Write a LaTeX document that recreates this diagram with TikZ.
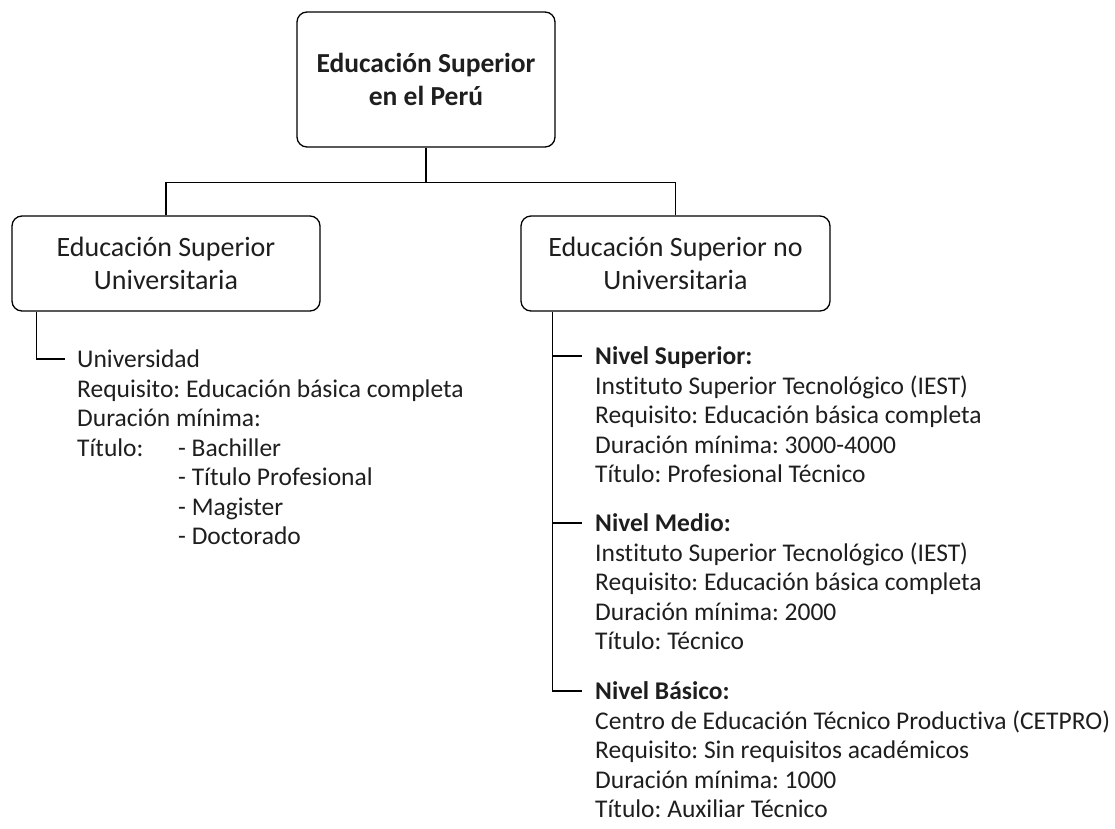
\documentclass[tikz,border=0pt]{standalone}
\usepackage{fontspec}
\setmainfont{Carlito}[Ligatures=NoCommon]
\usetikzlibrary{positioning}
\frenchspacing
\definecolor{tinta}{HTML}{1E1E1E}
\tikzset{
  caja/.style={draw, rounded corners=10pt, line width=1.3pt, align=center, inner sep=0pt},
  titulo/.style={font=\fontsize{25.5}{29.5}\selectfont, text height=16.5pt, text depth=0pt, inner sep=0pt, anchor=west},
  titulob/.style={titulo, font=\bfseries\fontsize{25.5}{29.5}\selectfont},
  detalle/.style={font=\fontsize{25.5}{29.5}\selectfont, align=left, inner sep=0pt, anchor=north west},
  rama/.style={line width=1.3pt},
}
\begin{document}
\begin{tikzpicture}[x=1pt,y=-1pt,every node/.style={text=tinta}]
  \useasboundingbox (0,0) rectangle (1115,828);
  % cajas
  \node[caja, minimum width=258pt, minimum height=135pt, font=\bfseries\fontsize{27.5}{33}\selectfont] (esp) at (426,79.5) {Educación Superior\\en el Perú};
  \node[caja, minimum width=308pt, minimum height=95pt, font=\fontsize{28}{33}\selectfont] (esu) at (166,263.5) {Educación Superior\\Universitaria};
  \node[caja, minimum width=309pt, minimum height=95pt, font=\fontsize{28}{33}\selectfont] (esnu) at (675.5,263.5) {Educación Superior no\\Universitaria};
  \draw[rama] (esp.south) -- ++(0,35) coordinate (cruce);
  \draw[rama] (esu.north) |- (cruce) -| (esnu.north);
  % universitaria
  \node[titulo] (uni) at (77,359) {Universidad};
  \node[below=8.85pt of uni.south west, detalle] (unidet) {\strut Requisito: Educación básica completa\\Duración mínima:\\\makebox[101pt][l]{Título:}- Bachiller\\\hspace*{101pt}- Título Profesional\\\hspace*{101pt}- Magister\\\hspace*{101pt}- Doctorado};
  \draw[rama] ([xshift=25pt]esu.south west) |- ([xshift=-12pt]uni.west);
  % no universitaria
  \node[titulob] (nsup) at (595,356) {Nivel Superior:};
  \node[below=8.85pt of nsup.south west, detalle] (nsupdet) {\strut Instituto Superior Tecnológico (IEST)\\Requisito: Educación básica completa\\Duración mínima: 3000-4000\\Título: Profesional Técnico};
  \node[titulob] (nmed) at (595,523) {Nivel Medio:};
  \node[below=8.85pt of nmed.south west, detalle] (nmeddet) {\strut Instituto Superior Tecnológico (IEST)\\Requisito: Educación básica completa\\Duración mínima: 2000\\Título: Técnico};
  \node[titulob] (nbas) at (595,691) {Nivel Básico:};
  \node[below=8.85pt of nbas.south west, detalle] (nbasdet) {\strut Centro de Educación Técnico Productiva (CETPRO)\\Requisito: Sin requisitos académicos\\Duración mínima: 1000\\Título: Auxiliar Técnico};
  \draw[rama] ([xshift=32pt]esnu.south west) coordinate (tronco) |- ([xshift=-13pt]nbas.west);
  \draw[rama] (tronco |- nsup.west) -- ([xshift=-13pt]nsup.west);
  \draw[rama] (tronco |- nmed.west) -- ([xshift=-13pt]nmed.west);
\end{tikzpicture}
\end{document}
